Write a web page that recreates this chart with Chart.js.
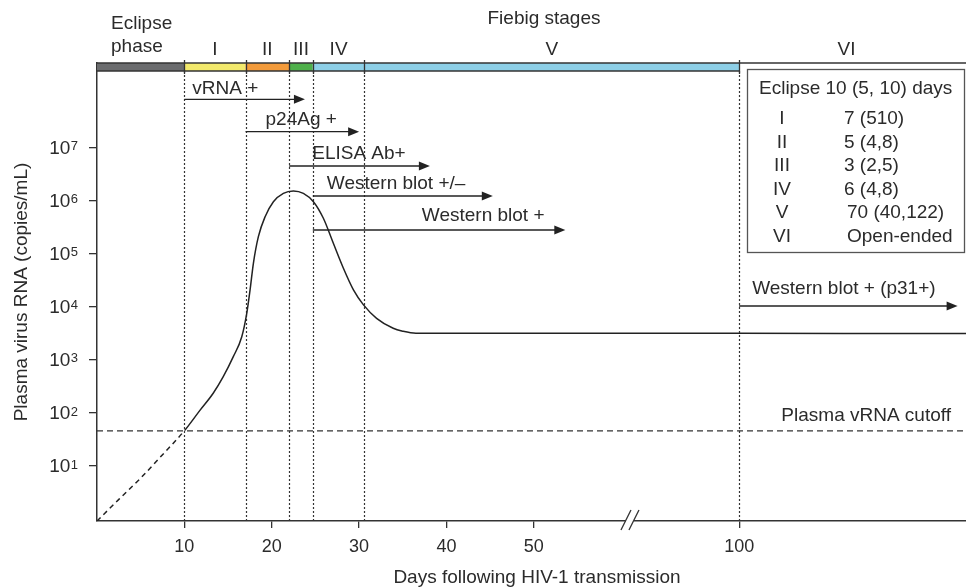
<!DOCTYPE html>
<html>
<head>
<meta charset="utf-8">
<script src="https://cdn.jsdelivr.net/npm/chart.js@4.4.1/dist/chart.umd.min.js"></script>
<style>
body { margin: 0; background: #fff; }
#wrap { width: 966px; height: 588px; position: relative; }
</style>
</head>
<body>
<div id="wrap"><canvas id="myChart"></canvas></div>
<script>

// plasma viral load after HIV-1 transmission (days, copies/mL)
var days =   [0, 2.5, 5, 7.5, 10.08, 11.8, 13.3, 14.45, 15.6, 16.57, 17.14, 17.52, 17.9, 18.47, 19.24, 20.19, 21.33, 22.48, 23.62, 24.77, 25.91, 27.05, 28.2, 29.35, 30.5, 32, 33.9, 35, 36.5, 50, 100, 181]
var copies = [0.9, 2.3, 5.8, 16, 47, 111, 231, 474, 1130, 2690, 7430, 20500, 65200, 207000, 493000, 946000, 1360000, 1510000, 1360000, 946000, 460000, 155000, 52500, 20500, 10700, 5980, 3880, 3420, 3130, 3120, 3110, 3090]

var cutoff = 45

// Fiebig stage boundaries (days), names and durations
var stageBounds = [0, 10, 17, 22, 24.7, 30.6, 100]
var stageNames = ['I', 'II', 'III', 'IV', 'V', 'VI']
var stageDuration = ['7 (510)', '5 (4,8)', '3 (2,5)', '6 (4,8)', '70 (40,122)', 'Open-ended']

// assays: positive from day .. (arrow runs on)
var assayLabels = ['vRNA +', 'p24Ag +', 'ELISA Ab+', 'Western blot +/\u2013', 'Western blot +', 'Western blot + (p31+)']
var assayFrom = [10, 17, 22, 24.7, 24.7, 100]
var assayTo = [23.8, 30, 38.1, 45.3, 53.6, 178]

var xTicks = [10, 20, 30, 40, 50, 100]
var yTicks = [1e1, 1e2, 1e3, 1e4, 1e5, 1e6, 1e7]

// layout only
var stageColors = ['#6b6c6e', '#f2e96c', '#f39b3b', '#4fb04b', '#8dcfe7', '#8dcfe7']
var assayRowY = [99.3, 131.7, 166, 196, 230, 306]
var assayTextDx = [8, 20, 23, 14, 109, 13]
var assayTextDy = [-10.5, -12.2, -12.3, -12, -14, -17]

var F = '"Liberation Sans", Arial, Helvetica, sans-serif'
var ink = '#2b2b2b'

// x axis is broken after ~61 days; later days are squeezed
function dayPos(d) {
  return d <= 61 ? d : 61 + (d - 61) * 12.5 / 39
}

var curve = []
for (var i = 0; i < days.length; i++) {
  curve.push({x: dayPos(days[i]), y: copies[i]})
}
var xMax = dayPos(181)

function px(chart, d) {
  return chart.scales.x.getPixelForValue(dayPos(d))
}

function arrow(ctx, x1, x2, y) {
  ctx.beginPath(); ctx.moveTo(x1, y); ctx.lineTo(x2 - 8, y); ctx.stroke()
  ctx.beginPath(); ctx.moveTo(x2, y); ctx.lineTo(x2 - 11, y - 4.5); ctx.lineTo(x2 - 11, y + 4.5); ctx.closePath(); ctx.fill()
}

var fiebig = {
  id: 'fiebig',
  beforeDatasetsDraw: function(chart) {
    var ctx = chart.ctx, a = chart.chartArea
    ctx.save()
    ctx.strokeStyle = '#333'
    ctx.lineWidth = 1.2
    ctx.setLineDash([2, 2])
    for (var i = 1; i < stageBounds.length; i++) {
      var x = Math.round(px(chart, stageBounds[i])) + 0.5
      ctx.beginPath(); ctx.moveTo(x, a.top + 8); ctx.lineTo(x, a.bottom); ctx.stroke()
    }
    ctx.restore()
  },
  afterDraw: function(chart) {
    var ctx = chart.ctx, a = chart.chartArea
    ctx.save()

    // y tick labels as 10 with raised power
    var ys = chart.scales.y
    ctx.fillStyle = ink
    ctx.textAlign = 'right'
    ys.ticks.forEach(function(t) {
      var y = ys.getPixelForValue(t.value)
      var p = String(Math.round(Math.log10(t.value)))
      ctx.font = '13px ' + F
      var w = ctx.measureText(p).width
      ctx.textBaseline = 'alphabetic'
      ctx.fillText(p, 78, y + 3)
      ctx.font = '19px ' + F
      ctx.textBaseline = 'middle'
      ctx.fillText('10', 78 - w - 0.5, y + 1.5)
    })

    // colour bar of the stages
    var top = a.top, bh = 8
    for (var i = 0; i < stageBounds.length - 1; i++) {
      var x1 = px(chart, stageBounds[i]), x2 = px(chart, stageBounds[i + 1])
      ctx.fillStyle = stageColors[i]
      ctx.fillRect(x1, top, x2 - x1, bh)
    }
    ctx.strokeStyle = '#333'
    ctx.lineWidth = 1.3
    ctx.beginPath(); ctx.moveTo(a.left, top); ctx.lineTo(a.right, top); ctx.stroke()
    ctx.beginPath(); ctx.moveTo(a.left, top + bh); ctx.lineTo(px(chart, 100), top + bh); ctx.stroke()
    for (var i = 1; i < stageBounds.length; i++) {
      var x = Math.round(px(chart, stageBounds[i])) + 0.5
      ctx.beginPath(); ctx.moveTo(x, top - 3); ctx.lineTo(x, top + bh + 3); ctx.stroke()
    }

    ctx.fillStyle = ink
    ctx.textBaseline = 'middle'
    ctx.font = '19px ' + F

    // stage names above the bar
    ctx.textAlign = 'left'
    ctx.fillText('Eclipse', 111, 24)
    ctx.fillText('phase', 111, 47)
    ctx.textAlign = 'center'
    ctx.fillText('Fiebig stages', 544, 19)
    for (var i = 0; i < stageNames.length; i++) {
      var x1 = px(chart, stageBounds[i + 1])
      var x2 = i + 2 < stageBounds.length ? px(chart, stageBounds[i + 2]) : a.right - 12
      ctx.fillText(stageNames[i], (x1 + x2) / 2, 50)
    }

    // assay arrows
    ctx.strokeStyle = '#222'
    ctx.lineWidth = 1.3
    ctx.setLineDash([])
    for (var i = 0; i < assayLabels.length; i++) {
      var xs = px(chart, assayFrom[i]), xe = px(chart, assayTo[i])
      ctx.fillStyle = '#222'
      arrow(ctx, xs, xe, assayRowY[i])
      ctx.fillStyle = ink
      ctx.textAlign = 'left'
      ctx.fillText(assayLabels[i], xs + assayTextDx[i], assayRowY[i] + assayTextDy[i])
    }

    // cutoff label
    ctx.fillStyle = ink
    ctx.textAlign = 'right'
    ctx.fillText('Plasma vRNA cutoff', 951, ys.getPixelForValue(cutoff) - 15)

    // table of stage durations
    ctx.strokeStyle = '#555'
    ctx.lineWidth = 1.3
    ctx.strokeRect(747.5, 69.5, 217, 183)
    ctx.textAlign = 'left'
    ctx.fillText('Eclipse 10 (5, 10) days', 759, 89)
    for (var i = 0; i < stageNames.length; i++) {
      var y = 119.2 + i * 23.5
      ctx.textAlign = 'center'
      ctx.fillText(stageNames[i], 782, y)
      ctx.textAlign = 'left'
      ctx.fillText(stageDuration[i], i === 4 || i === 5 ? 847 : 844, y)
    }

    // axis break
    var yb = a.bottom
    var xb = chart.scales.x.getPixelForValue(61)
    ctx.fillStyle = '#fff'
    ctx.fillRect(xb - 4, yb - 2, 8, 4)
    ctx.strokeStyle = '#333'
    ctx.lineWidth = 1.3
    ctx.beginPath(); ctx.moveTo(xb - 9, yb + 9); ctx.lineTo(xb + 1, yb - 11); ctx.stroke()
    ctx.beginPath(); ctx.moveTo(xb - 1, yb + 9); ctx.lineTo(xb + 9, yb - 11); ctx.stroke()

    // axis titles
    ctx.fillStyle = ink
    ctx.textAlign = 'center'
    ctx.fillText('Days following HIV-1 transmission', 537, 578)
    ctx.translate(22, (a.top + a.bottom) / 2)
    ctx.rotate(-Math.PI / 2)
    ctx.fillText('Plasma virus RNA (copies/mL)', 0, 0)
    ctx.restore()
  }
}

Chart.defaults.font.family = F
Chart.defaults.color = ink

var ctx = document.getElementById('myChart').getContext('2d')

var chart = new Chart(ctx, {
  type: 'line',
  data: {
    datasets: [{
      label: 'Viral load',
      data: curve,
      borderColor: '#222',
      borderWidth: 1.5,
      pointRadius: 0,
      cubicInterpolationMode: 'monotone',
      segment: {
        borderDash: function(c) { return c.p1.parsed.x <= 10.1 ? [5, 4] : undefined }
      }
    }, {
      label: 'Plasma vRNA cutoff',
      data: [{x: 0, y: cutoff}, {x: xMax, y: cutoff}],
      borderColor: '#333',
      borderWidth: 1.3,
      borderDash: [6, 4],
      pointRadius: 0
    }]
  },
  plugins: [fiebig],
  options: {
    responsive: true,
    maintainAspectRatio: false,
    animation: false,
    layout: {padding: {top: 63, left: 0, right: 0, bottom: 0}},
    plugins: {legend: {display: false}, tooltip: {enabled: false}},
    scales: {
      x: {
        type: 'linear',
        min: 0,
        max: xMax,
        afterFit: function(s) { s.height = 67 },
        afterBuildTicks: function(s) { s.ticks = xTicks.map(function(d) { return {value: dayPos(d)} }) },
        ticks: {
          font: {size: 18},
          color: ink,
          padding: 8,
          maxRotation: 0,
          callback: function(v, i) { return String(xTicks[i]) }
        },
        grid: {drawOnChartArea: false, drawTicks: true, tickLength: 7, color: '#333', lineWidth: 1.3},
        border: {display: true, color: '#333', width: 1.5}
      },
      y: {
        type: 'logarithmic',
        min: 0.9,
        max: 3.9e8,
        afterFit: function(s) { s.width = 97 },
        afterBuildTicks: function(s) { s.ticks = yTicks.map(function(v) { return {value: v} }) },
        ticks: {display: false},
        grid: {drawOnChartArea: false, drawTicks: true, tickLength: 8, color: '#333', lineWidth: 1.3},
        border: {display: true, color: '#333', width: 1.5}
      }
    }
  }
})
</script>
</body>
</html>
